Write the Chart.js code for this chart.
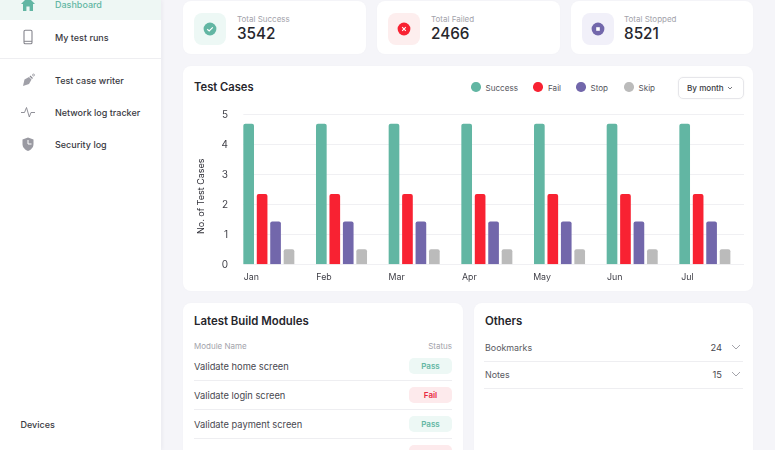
<!DOCTYPE html>
<html><head><meta charset="utf-8">
<script src="https://cdn.jsdelivr.net/npm/chart.js@4"></script>
<style>
html,body{margin:0;padding:0}
body{width:775px;height:450px;overflow:hidden;background:#f5f5f9;font-family:Inter,"Open Sans",sans-serif;color:#2b2b33;position:relative}
.a{position:absolute;white-space:nowrap;line-height:1}
.card{position:absolute;background:#fff;border-radius:8px;box-shadow:0 0 3px rgba(30,30,60,.02)}
.nav{font-size:9px;font-weight:500;color:#3a3a42;left:55px;transform:translateY(-50%)}
.ico{position:absolute;left:20px;width:16px;height:16px;transform:translateY(-50%)}
.box{position:absolute;width:32px;height:32px;border-radius:8px;top:13px}
.lab{font-size:8px;color:#a3a3ab;top:14.5px}
.val{font-size:15.3px;font-weight:500;color:#26262c;top:26px}
.h{font-size:11.4px;font-weight:600;color:#26262c}
.row{font-size:9.3px;color:#48484f;transform:translateY(-50%);margin-top:1px}
.sep{position:absolute;height:1px;background:#eeeef1}
.badge{position:absolute;left:409px;width:43px;height:16px;border-radius:5px;font-size:8px;font-weight:600;display:flex;align-items:center;justify-content:center}
.pass{background:#edf8f5;color:#62b6a3}.fail{background:#fdeaec;color:#e8283f}
.dot{position:absolute;width:9.5px;height:9.5px;border-radius:50%;top:82.3px}
.leg{font-size:8.1px;color:#55555d;top:83.5px}
</style></head><body>

<div class="a" style="left:0;top:0;width:161px;height:450px;background:#fff;box-shadow:1px 0 4px rgba(30,30,60,.06)"></div>
<div class="a" style="left:0;top:0;width:161px;height:20px;background:#eef7f4"></div>
<div class="sep" style="left:0;top:58px;width:161px"></div>

<svg class="ico" style="top:4px" viewBox="0 0 16 16"><path d="M8 1 L15 8 H13 V15 H9.6 V10.5 H6.4 V15 H3 V8 H1 Z" fill="#62b6a3"/></svg>
<svg class="ico" style="top:37px" viewBox="0 0 16 16"><rect x="4" y="1.2" width="8" height="13.6" rx="1.3" fill="none" stroke="#85858d" stroke-width="1.1"/><path d="M4 12.3H12" stroke="#85858d"/></svg>
<svg class="ico" style="top:80px" viewBox="0 0 16 16"><path d="M3 14 L4.5 7.5 L9 5 L11.5 7.5 L9 12 Z" fill="#a0a0a8"/><path d="M10 4 L12.5 6.5" stroke="#8a8a92" stroke-width="1.2"/><circle cx="13.5" cy="3" r="1" fill="none" stroke="#8a8a92" stroke-width=".7"/></svg>
<svg class="ico" style="top:112px" viewBox="0 0 16 16"><path d="M1 8.5H4.5L6.5 3.5L9.3 13L11 8.5H15" fill="none" stroke="#85858d" stroke-width=".9"/></svg>
<svg class="ico" style="top:144px" viewBox="0 0 16 16"><path d="M8 1.5 L13.5 3.5 V8 C13.5 11.5 11 13.8 8 15 C5 13.8 2.5 11.5 2.5 8 V3.5 Z" fill="#9a9aa2"/><path d="M8 4V8H11.5" stroke="#fff" fill="none"/></svg>

<div class="a nav" style="top:4px;color:#62b6a3">Dashboard</div>
<div class="a nav" style="top:37px">My test runs</div>
<div class="a nav" style="top:80px">Test case writer</div>
<div class="a nav" style="top:112px">Network log tracker</div>
<div class="a nav" style="top:144px">Security log</div>
<div class="a nav" style="top:424px;left:20.5px">Devices</div>

<div class="card" style="left:183px;top:1px;width:183px;height:53px"></div>
<div class="card" style="left:377px;top:1px;width:183px;height:53px"></div>
<div class="card" style="left:571px;top:1px;width:182px;height:53px"></div>

<div class="box" style="left:194px;background:#edf8f5"></div>
<svg class="a" style="left:203px;top:22px" width="14" height="14" viewBox="0 0 14 14"><circle cx="7" cy="7" r="6.4" fill="#62b6a3"/><path d="M4.2 7.2L6.2 9L9.8 5.4" stroke="#fff" stroke-width="1.2" fill="none"/></svg>
<div class="a lab" style="left:237px">Total Success</div>
<div class="a val" style="left:237px">3542</div>

<div class="box" style="left:388px;background:#fdeeee"></div>
<svg class="a" style="left:397px;top:22px" width="14" height="14" viewBox="0 0 14 14"><circle cx="7" cy="7" r="6.4" fill="#f82232"/><path d="M5.2 5.2L8.8 8.8M8.8 5.2L5.2 8.8" stroke="#fff" stroke-width="1.1"/></svg>
<div class="a lab" style="left:431px">Total Failed</div>
<div class="a val" style="left:431px">2466</div>

<div class="box" style="left:581.5px;background:#f1f0f9"></div>
<svg class="a" style="left:590.5px;top:22px" width="14" height="14" viewBox="0 0 14 14"><circle cx="7" cy="7" r="6.4" fill="#7267ab"/><rect x="5.2" y="5.2" width="3.6" height="3.6" fill="#fff"/></svg>
<div class="a lab" style="left:624px">Total Stopped</div>
<div class="a val" style="left:624px">8521</div>

<div class="card" style="left:183px;top:66px;width:570px;height:225px"></div>
<div class="a h" style="left:194px;top:82px;font-size:11.2px">Test Cases</div>
<div id="legend"></div>
<div class="a" style="left:678px;top:77px;width:64px;height:20px;border:1px solid #e6e6ea;border-radius:5px;box-shadow:0 0 2px rgba(0,0,0,.05)"></div>
<div class="a" style="left:687px;top:84px;font-size:8.1px;font-weight:500;color:#3a3a42">By month</div>
<svg class="a" style="left:727px;top:86px" width="6" height="4" viewBox="0 0 6 4"><path d="M1 1L3 3L5 1" stroke="#55555d" fill="none" stroke-width=".8"/></svg>

<div class="a" style="left:190px;top:103px;width:554px;height:184px"><canvas id="c"></canvas></div>
<div class="a" style="left:196px;top:160px;height:74px;text-align:center;font-size:9px;color:#2f2f37;writing-mode:vertical-rl;transform:rotate(180deg)">No. of Test Cases</div>

<div class="card" style="left:183px;top:303px;width:280px;height:160px"></div>
<div class="a h" style="left:194px;top:316px">Latest Build Modules</div>
<div class="a" style="left:194px;top:341.5px;font-size:8px;color:#a3a3ab">Module Name</div>
<div class="a" style="right:323px;top:341.5px;font-size:8px;color:#a3a3ab">Status</div>
<div class="a row" style="left:194px;top:366px">Validate home screen</div>
<div class="a row" style="left:194px;top:395px">Validate login screen</div>
<div class="a row" style="left:194px;top:424px">Validate payment screen</div>
<div class="sep" style="left:194px;top:380px;width:258px"></div>
<div class="sep" style="left:194px;top:409px;width:258px"></div>
<div class="sep" style="left:194px;top:438px;width:258px"></div>
<div class="badge pass" style="top:358px">Pass</div>
<div class="badge fail" style="top:387px">Fail</div>
<div class="badge pass" style="top:416px">Pass</div>
<div class="badge fail" style="top:445px"></div>

<div class="card" style="left:474px;top:303px;width:279px;height:160px"></div>
<div class="a h" style="left:485px;top:316px">Others</div>
<div class="a row" style="left:485px;top:347px;color:#5a5a62;font-size:8.9px">Bookmarks</div>
<div class="a row" style="left:485px;top:374px;color:#5a5a62;font-size:8.9px">Notes</div>
<div class="a row" style="right:53px;top:347px">24</div>
<div class="a row" style="right:53px;top:374px">15</div>
<svg class="a" style="left:731px;top:344px" width="10" height="6" viewBox="0 0 10 6"><path d="M1 1L5 5L9 1" stroke="#9a9aa2" fill="none" stroke-width=".9"/></svg>
<svg class="a" style="left:731px;top:371px" width="10" height="6" viewBox="0 0 10 6"><path d="M1 1L5 5L9 1" stroke="#9a9aa2" fill="none" stroke-width=".9"/></svg>
<div class="sep" style="left:484px;top:361px;width:259px"></div>
<div class="sep" style="left:484px;top:388px;width:259px"></div>

<script>
const categories = ["Jan","Feb","Mar","Apr","May","Jun","Jul"];
const seriesNames = ["Success","Fail","Stop","Skip"];
const seriesColors = ["#62b6a3","#f82232","#7267ab","#bbbbbb"];
const success = [4.66,4.66,4.66,4.66,4.66,4.66,4.66];
const fail = [2.33,2.33,2.33,2.33,2.33,2.33,2.33];
const stop = [1.42,1.42,1.42,1.42,1.42,1.42,1.42];
const skip = [0.5,0.5,0.5,0.5,0.5,0.5,0.5];
const seriesValues = [success,fail,stop,skip];
const legendDots = [471,533,576,624];
const legendText = [485.5,548,590.5,638.5];

const lg = document.getElementById("legend");
seriesNames.forEach((n,i)=>{
  lg.insertAdjacentHTML("beforeend",
    `<div class="dot" style="left:${legendDots[i]}px;background:${seriesColors[i]}"></div>`+
    `<div class="a leg" style="left:${legendText[i]}px">${n}</div>`);
});

const gridFromFirstBar = {
  id:"gridFromFirstBar",
  beforeDatasetsDraw(chart){
    const bar = chart.getDatasetMeta(0).data[0];
    const y = chart.scales.y, c = chart.ctx;
    const start = bar.x-bar.width/2, end = chart.width;
    c.save(); c.strokeStyle="#f0f0f3"; c.lineWidth=1;
    y.ticks.forEach(t=>{
      const p = Math.round(y.getPixelForValue(t.value))+0.5;
      c.beginPath(); c.moveTo(start,p); c.lineTo(end,p); c.stroke();
    });
    c.restore();
  }
};

new Chart(document.getElementById("c"),{
  type:"bar",
  data:{labels:categories,datasets:seriesNames.map((n,i)=>({
    label:n,data:seriesValues[i],backgroundColor:seriesColors[i],
    borderRadius:{topLeft:2,topRight:2},borderSkipped:"bottom",
    barPercentage:0.793,categoryPercentage:0.7403
  }))},
  plugins:[gridFromFirstBar],
  options:{
    responsive:true,maintainAspectRatio:false,animation:false,
    layout:{padding:{top:0,left:0,right:2.8,bottom:0}},
    plugins:{legend:{display:false},tooltip:{enabled:false}},
    scales:{
      x:{
        grid:{display:false},border:{display:false},
        ticks:{color:"#3f3f47",font:{family:"Inter",size:8.8},labelOffset:-17.5,padding:0,maxRotation:0,autoSkip:false},
        afterFit(s){s.height=22.7;}
      },
      y:{
        min:0,max:5,
        grid:{display:false,drawTicks:false},border:{display:false},
        ticks:{stepSize:1,color:"#3f3f47",font:{family:"Inter",size:10},padding:4.5,labelOffset:1},
        afterFit(s){s.width=42.5;}
      }
    }
  }
});
</script>
</body></html>
